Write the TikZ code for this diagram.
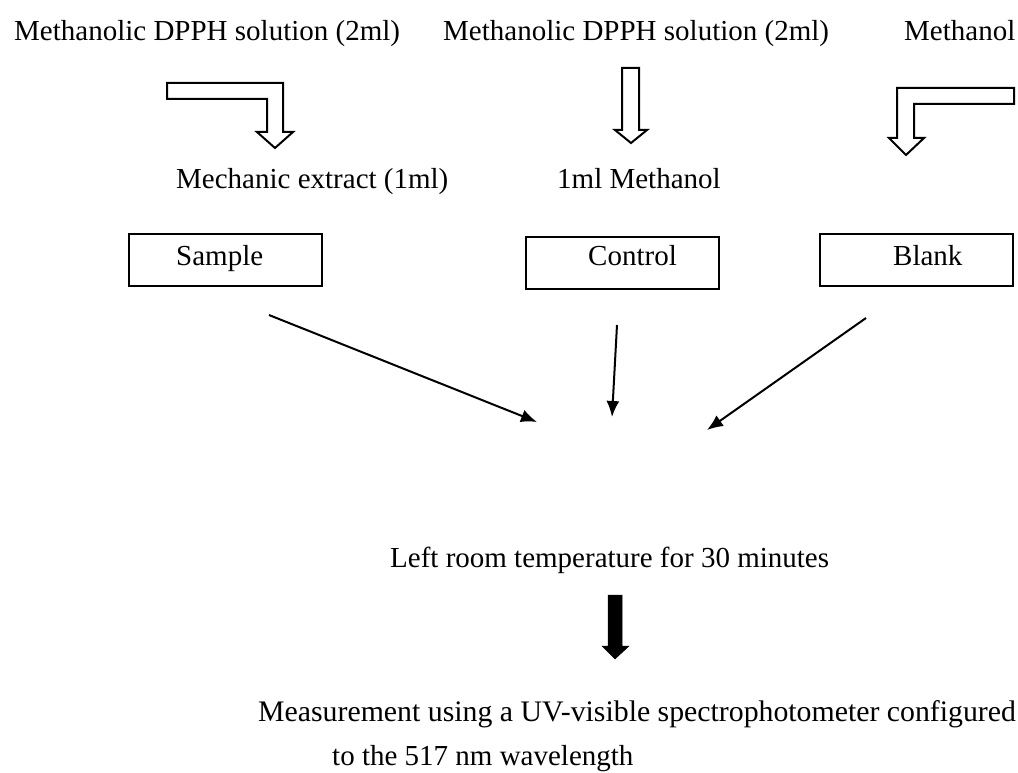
\documentclass[tikz,border=0pt]{standalone}
\usepackage{fontspec}
\setmainfont{Liberation Serif}
\usetikzlibrary{arrows.meta}
\begin{document}
\begin{tikzpicture}[x=1pt,y=-1pt,
  txt/.style={anchor=base west,inner sep=0pt,font=\fontsize{29}{32}\selectfont},
  box/.style={draw,line width=2pt,minimum width=193pt,minimum height=52pt,inner sep=0pt},
  blockarrow/.style={draw,line width=2pt,line join=miter,fill=white},
  thin/.style={line width=2pt,-{Latex[length=16pt,width=13pt]}}]
\useasboundingbox (0,0) rectangle (1018,773);
% top texts
\node[txt] (dpph1) at (14,41) {Methanolic DPPH solution (2ml)};
\node[txt] (dpph2) at (443,41) {Methanolic DPPH solution (2ml)};
\node[txt] (meoh) at (904,41) {Methanol};
% block arrows
\draw[blockarrow] (167,83) -- (283,83) -- (283,132) -- (293,132) -- (275,148) -- (257,132) -- (267,132) -- (267,99) -- (167,99) -- cycle;
\draw[blockarrow] (622,68) -- (639,68) -- (639,130) -- (647,130) -- (631,143) -- (615,130) -- (622,130) -- cycle;
\draw[blockarrow] (1014,88) -- (1014,104) -- (914,104) -- (914,138) -- (924,138) -- (906,155) -- (889,138) -- (897,138) -- (897,88) -- cycle;
% middle texts
\node[txt] (extract) at (176,189) {Mechanic extract (1ml)};
\node[txt] (ml1) at (557,189) {1ml Methanol};
% boxes
\node[box] (sample) at (225.5,260) {};
\node[box] (control) at (622.5,262.5) {};
\node[box] (blank) at (916.5,260) {};
\node[txt] (sampletxt) at (176,265) {Sample};
\node[txt] (controltxt) at (588,265) {Control};
\node[txt] (blanktxt) at (893,265) {Blank};
% thin arrows
\coordinate (s1) at (269,315);
\coordinate (e1) at (537,422);
\coordinate (s2) at (617,325);
\coordinate (e2) at (612,417);
\coordinate (s3) at (866,318);
\coordinate (e3) at (707,430);
\draw[thin] (s1) -- (e1);
\draw[thin] (s2) -- (e2);
\draw[thin] (s3) -- (e3);
% bottom
\node[txt] (left) at (390,567) {Left room temperature for 30 minutes};
\draw[fill=black,line width=0.5pt] (608,595) -- (622,595) -- (622,646) -- (629,646) -- (615,659) -- (602,646) -- (608,646) -- cycle;
\node[txt,font=\fontsize{29.8}{32}\selectfont] (meas) at (258,721) {Measurement using a UV-visible spectrophotometer configured};
\node[txt] (meas2) at (332,765) {to the 517 nm wavelength};
\end{tikzpicture}
\end{document}
